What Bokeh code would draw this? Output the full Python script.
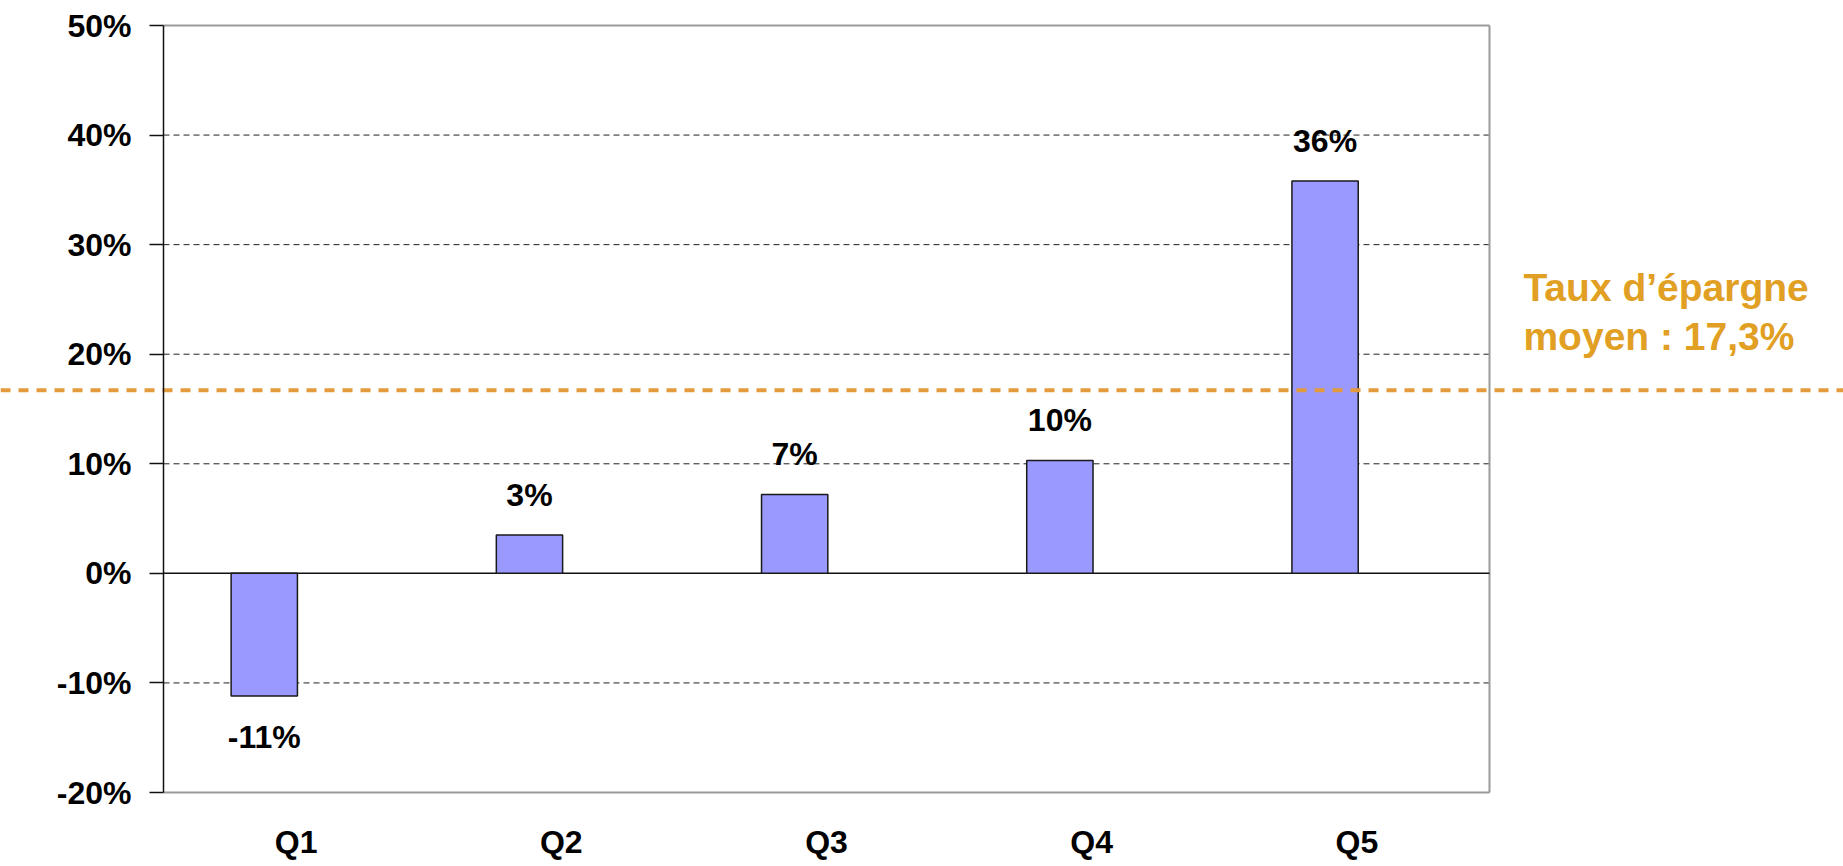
from bokeh.plotting import figure
from bokeh.models import FixedTicker, PrintfTickFormatter, Range1d, ColumnDataSource
from bokeh.transform import dodge
from bokeh.embed import file_html
from bokeh.resources import INLINE
from bokeh.core.properties import value

# ---- data ----
categories = ["Q1", "Q2", "Q3", "Q4", "Q5"]
cat_pos = [0.5, 1.5, 2.5, 3.5, 4.5]
savings_rate = [-11.2, 3.5, 7.2, 10.3, 35.8]
value_labels = ["-11%", "3%", "7%", "10%", "36%"]
y_ticks = [-20, -10, 0, 10, 20, 30, 40, 50]
average_line = 16.7
average_text = ["Taux d\u2019épargne", "moyen : 17,3%"]

# ---- layout constants (pixels) ----
W, H = 1843, 866
BOX_L, BOX_R, BOX_T, BOX_B = 163, 1489, 25, 792
FONT = "Liberation Sans"

n_cat = len(categories)
ymin, ymax = y_ticks[0], y_ticks[-1]
px_x = (BOX_R - BOX_L) / n_cat
px_y = (BOX_B - BOX_T) / (ymax - ymin)
x_range = Range1d(-BOX_L / px_x, n_cat + (W - BOX_R) / px_x)
y_range = Range1d(ymin - (H - BOX_B) / px_y, ymax + BOX_T / px_y)

p = figure(width=W, height=H, output_backend="svg", toolbar_location=None,
           x_range=x_range, y_range=y_range,
           min_border=0, min_border_left=0, min_border_right=0,
           min_border_top=0, min_border_bottom=0)
p.background_fill_color = "white"
p.border_fill_color = "white"
p.outline_line_color = None
p.xgrid.grid_line_color = None
p.ygrid.grid_line_color = None

# gridlines (inside the box only)
grid_vals = [t for t in y_ticks if t not in (0, ymin, ymax)]
p.segment(x0=[0] * len(grid_vals), x1=[n_cat] * len(grid_vals), y0=grid_vals, y1=grid_vals,
          line_color="#222222", line_width=1, line_dash="6 4")

# box border (top, right, bottom)
p.segment(x0=[0, n_cat, 0], x1=[n_cat, n_cat, n_cat], y0=[ymax, ymin, ymin], y1=[ymax, ymax, ymin],
          line_color="#9a9a9a", line_width=2)

# zero line
p.segment(x0=[0], x1=[n_cat], y0=[0], y1=[0], line_color="#111111", line_width=1.5)

# y axis fixed on the box's left edge
yax = p.yaxis[0]
yax.fixed_location = 0
yax.bounds = (ymin, ymax)
yax.ticker = FixedTicker(ticks=y_ticks)
yax.formatter = PrintfTickFormatter(format="%d%%")
yax.axis_line_color = "#111111"
yax.axis_line_width = 1.5
yax.major_tick_out = 14
yax.major_tick_in = 0
yax.major_tick_line_color = "#111111"
yax.major_tick_line_width = 1.5
yax.minor_tick_line_color = None
yax.major_label_standoff = 18
yax.major_label_text_font = FONT
yax.major_label_text_font_style = "bold"
yax.major_label_text_font_size = "32px"
yax.major_label_text_color = "#000000"

# x axis fixed on the box's bottom edge
xax = p.xaxis[0]
xax.fixed_location = ymin
xax.ticker = FixedTicker(ticks=cat_pos)
xax.major_label_overrides = {pos: c for pos, c in zip(cat_pos, categories)}
xax.axis_line_color = None
xax.major_tick_line_color = None
xax.minor_tick_line_color = None
xax.major_tick_out = 0
xax.major_tick_in = 0
xax.major_label_standoff = 31
xax.major_label_text_font = FONT
xax.major_label_text_font_style = "bold"
xax.major_label_text_font_size = "32px"
xax.major_label_text_color = "#000000"

src = ColumnDataSource(dict(x=cat_pos, top=savings_rate, text=value_labels,
                            yoff=[41 if v < 0 else -40 for v in savings_rate]))

# bars
p.vbar(x=dodge("x", -0.12), top="top", bottom=0, width=0.25, source=src,
       fill_color="#9999FF", line_color="#1a1a1a", line_width=1.5)

# value labels
p.text(x=dodge("x", -0.12), y="top", text="text", y_offset="yoff", source=src,
       text_align="center", text_baseline="alphabetic",
       text_font=value(FONT), text_font_style="bold", text_font_size="32px",
       text_color="#000000")

# average line across the whole page
p.line(x=[x_range.start, x_range.end], y=[average_line, average_line],
       line_color="#E49B3C", line_width=4, line_dash="10 8")

# average text
p.text(x=[5.128, 5.128], y=[average_line, average_line], text=average_text,
       y_offset=[-103, -54], text_align="left", text_baseline="alphabetic",
       text_font=value(FONT), text_font_style="bold", text_font_size="39px",
       text_color="#E1A023")

open("out.html", "w").write(file_html(p, INLINE))
